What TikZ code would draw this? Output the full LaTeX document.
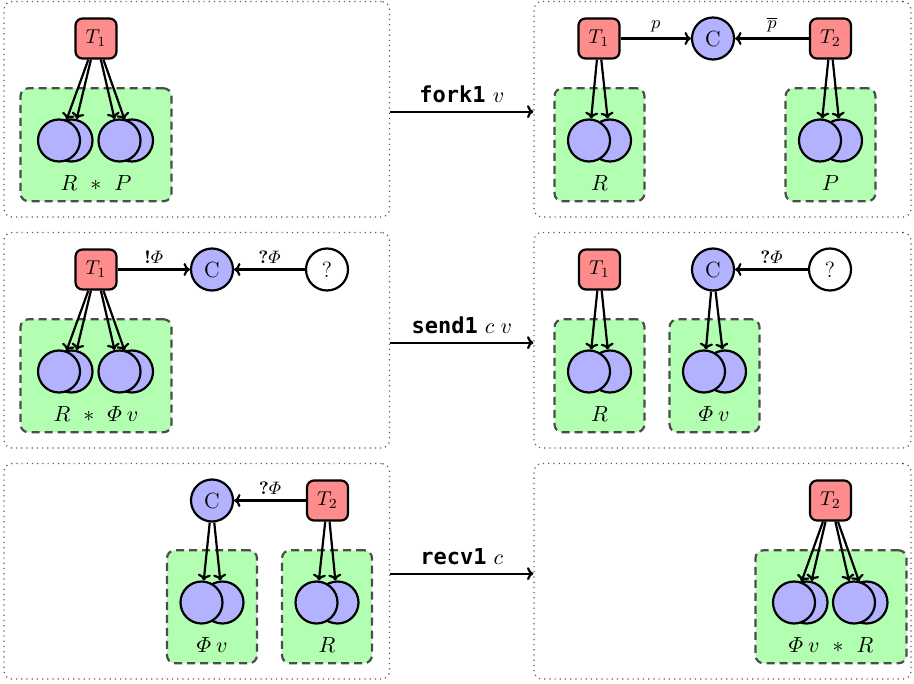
\documentclass[tikz,border=0pt]{standalone}
\usepackage{amsmath}
\usepackage{fontspec}
\newfontfamily\codefont{DejaVu Sans Mono}
\usetikzlibrary{arrows.meta}
\tikzset{
  panel/.style={draw=black!65, line width=0.6pt, dotted, rounded corners=4pt, minimum width=192.75pt, minimum height=107.75pt, inner sep=0pt},
  rpanel/.style={panel, minimum width=188.5pt},
  thread/.style={draw, line width=1.1pt, fill=red!45, rounded corners=3.5pt, minimum width=20.5pt, minimum height=20pt, inner sep=0pt, font=\fontsize{10}{12}\selectfont},
  chan/.style={draw, line width=1.1pt, circle, fill=blue!30, minimum size=21pt, inner sep=0pt, font=\fontsize{11}{13}\selectfont},
  qnode/.style={draw, line width=1.1pt, circle, fill=white, minimum size=21pt, inner sep=0pt, font=\fontsize{11}{13}\selectfont},
  res/.style={draw, line width=1.1pt, circle, fill=blue!30, minimum size=21pt, inner sep=0pt},
  heap/.style={draw=black!70, line width=1.1pt, dash pattern=on 4pt off 2.5pt, fill=green!30, rounded corners=4pt, minimum height=56.5pt, inner sep=0pt},
  wideheap/.style={heap, minimum width=75.5pt},
  narrowheap/.style={heap, minimum width=45pt},
  hlab/.style={inner sep=0pt, font=\fontsize{11}{13}\selectfont},
  ptr/.style={line width=1.1pt, -{To[length=3.2pt,width=6.5pt]}},
  transarrow/.style={line width=1.1pt, -{To[length=3.2pt,width=6.5pt]}},
  elab/.style={midway, above, inner sep=2.5pt, font=\fontsize{9}{11}\selectfont},
  tlab/.style={midway, above, inner sep=4pt, font=\fontsize{11}{13}\selectfont}
}
\newcommand{\sepast}{\hspace{6.5pt}{\ast}\hspace{6.5pt}}
\begin{document}
\begin{tikzpicture}[x=0.5pt,y=-0.5pt, font=\fontsize{11}{13}\selectfont]
\useasboundingbox (0,0) rectangle (914,684);

% panels
\node[panel]  (pa) at (196.75,109.25) {};
\node[rpanel] (pb) at (722.5,109.25) {};
\node[panel]  (pc) at (196.75,340.25) {};
\node[rpanel] (pd) at (722.5,340.25) {};
\node[panel]  (pe) at (196.75,571.25) {};
\node[rpanel] (pf) at (722.5,571.25) {};

% transitions
\draw[transarrow] ([yshift=-1.2pt]pa.east) -- node[tlab] {{\codefont\bfseries fork1} $v$} ([yshift=-1.2pt]pb.west);
\draw[transarrow] ([yshift=-1.2pt]pc.east) -- node[tlab] {{\codefont\bfseries send1} $c\;v$} ([yshift=-1.2pt]pd.west);
\draw[transarrow] ([yshift=-1.2pt]pe.east) -- node[tlab] {{\codefont\bfseries recv1} $c$} ([yshift=-1.2pt]pf.west);

% ---------------- panel A
\node[wideheap] (ga) at (96,144.75) {};
\node[res] (ab1) at (71.5,140.5) {};
\node[res] (af1) at (59,140.5) {};
\node[res] (ab2) at (132,140.5) {};
\node[res] (af2) at (119.5,140.5) {};
\node[hlab] (al) at (96,183.5) {$R\sepast P$};
\node[thread] (ta) at (96,38.5) {$T_1$};
\draw[ptr] (ta) -- (af1);
\draw[ptr] (ta) -- (ab1);
\draw[ptr] (ta) -- (af2);
\draw[ptr] (ta) -- (ab2);

% ---------------- panel B
\node[narrowheap] (gb1) at (599.5,144.75) {};
\node[res] (bb1) at (610,140.5) {};
\node[res] (bf1) at (589,140.5) {};
\node[hlab] (bl1) at (599.5,183.5) {$R$};
\node[narrowheap] (gb2) at (830.5,144.75) {};
\node[res] (bb2) at (841,140.5) {};
\node[res] (bf2) at (820,140.5) {};
\node[hlab] (bl2) at (830.5,183.5) {$P$};
\node[thread] (tb1) at (599,38.5) {$T_1$};
\node[chan] (cb) at (713,38.5) {C};
\node[thread] (tb2) at (830.5,38.5) {$T_2$};
\draw[ptr] (tb1) -- (bf1);
\draw[ptr] (tb1) -- (bb1);
\draw[ptr] (tb2) -- (bf2);
\draw[ptr] (tb2) -- (bb2);
\draw[ptr] (tb1) -- node[elab] {$p$} (cb);
\draw[ptr] (tb2) -- node[elab] {$\overline{p}$} (cb);

% ---------------- panel C
\node[wideheap] (gc) at (96,375.75) {};
\node[res] (cb1) at (71.5,371.5) {};
\node[res] (cf1) at (59,371.5) {};
\node[res] (cb2) at (132,371.5) {};
\node[res] (cf2) at (119.5,371.5) {};
\node[hlab] (cl) at (96,414.5) {$R\sepast\varPhi\:v$};
\node[thread] (tc) at (96,269.5) {$T_1$};
\node[chan] (cc) at (212,269.5) {C};
\node[qnode] (qc) at (327,269.5) {?};
\draw[ptr] (tc) -- (cf1);
\draw[ptr] (tc) -- (cb1);
\draw[ptr] (tc) -- (cf2);
\draw[ptr] (tc) -- (cb2);
\draw[ptr] (tc) -- node[elab] {$\textbf{!}\varPhi$} (cc);
\draw[ptr] (qc) -- node[elab] {$\textbf{?}\varPhi$} (cc);

% ---------------- panel D
\node[narrowheap] (gd1) at (599.5,375.75) {};
\node[res] (db1) at (610,371.5) {};
\node[res] (df1) at (589,371.5) {};
\node[hlab] (dl1) at (599.5,414.5) {$R$};
\node[narrowheap] (gd2) at (714.5,375.75) {};
\node[res] (db2) at (725,371.5) {};
\node[res] (df2) at (704,371.5) {};
\node[hlab] (dl2) at (714,414.5) {$\varPhi\:v$};
\node[thread] (td) at (599.5,269.5) {$T_1$};
\node[chan] (cd) at (713,269.5) {C};
\node[qnode] (qd) at (830,269.5) {?};
\draw[ptr] (td) -- (df1);
\draw[ptr] (td) -- (db1);
\draw[ptr] (cd) -- (df2);
\draw[ptr] (cd) -- (db2);
\draw[ptr] (qd) -- node[elab] {$\textbf{?}\varPhi$} (cd);

% ---------------- panel E
\node[narrowheap] (ge1) at (212,606.75) {};
\node[res] (eb1) at (222.5,602.5) {};
\node[res] (ef1) at (201.5,602.5) {};
\node[hlab] (el1) at (212,645.5) {$\varPhi\:v$};
\node[narrowheap] (ge2) at (327,606.75) {};
\node[res] (eb2) at (337.5,602.5) {};
\node[res] (ef2) at (316.5,602.5) {};
\node[hlab] (el2) at (327,645.5) {$R$};
\node[chan] (ce) at (212,500.5) {C};
\node[thread] (te) at (327.5,500.5) {$T_2$};
\draw[ptr] (ce) -- (ef1);
\draw[ptr] (ce) -- (eb1);
\draw[ptr] (te) -- (ef2);
\draw[ptr] (te) -- (eb2);
\draw[ptr] (te) -- node[elab] {$\textbf{?}\varPhi$} (ce);

% ---------------- panel F
\node[wideheap] (gf) at (831,606.75) {};
\node[res] (fb1) at (806.5,602.5) {};
\node[res] (ff1) at (794,602.5) {};
\node[res] (fb2) at (866.5,602.5) {};
\node[res] (ff2) at (854,602.5) {};
\node[hlab] (fl) at (831,645.5) {$\varPhi\:v\sepast R$};
\node[thread] (tf) at (830.5,500.5) {$T_2$};
\draw[ptr] (tf) -- (ff1);
\draw[ptr] (tf) -- (fb1);
\draw[ptr] (tf) -- (ff2);
\draw[ptr] (tf) -- (fb2);
\end{tikzpicture}
\end{document}
